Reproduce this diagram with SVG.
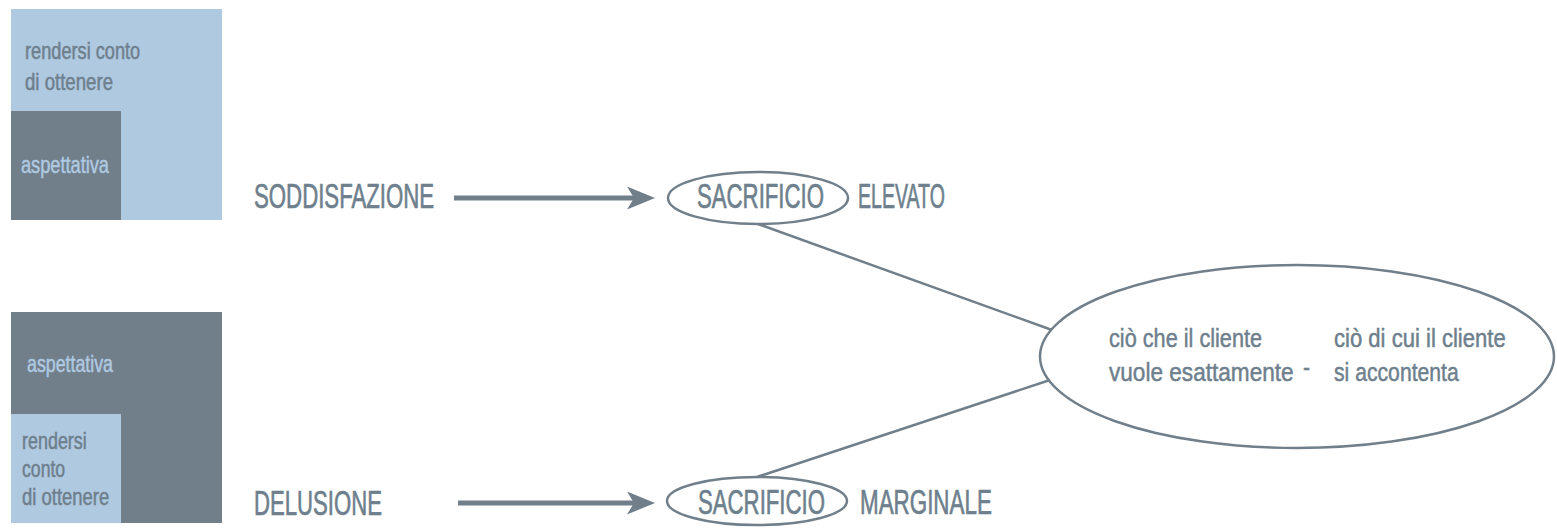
<svg xmlns="http://www.w3.org/2000/svg" width="1557" height="528" viewBox="0 0 1557 528">
  <style>
    .light { fill: #afc9e0; }
    .dark { fill: #717f8b; }
    .t { font-family: "Liberation Sans", Arial, sans-serif; fill: #6e7f8d; stroke: #6e7f8d; stroke-width: 0.5; }
    .small { font-size: 23px; }
    .inv { fill: #afc9e0; stroke: #afc9e0; }
    .big { font-size: 35px; stroke-width: 0.7; }
    .mid { font-size: 26px; }
    .ring { fill: none; stroke: #717f8b; stroke-width: 2.5; }
    .link { stroke: #717f8b; stroke-width: 2.5; fill: none; }
    .arrow { stroke: #717f8b; stroke-width: 5; fill: none; }
  </style>
  <defs>
    <marker id="head" viewBox="0 0 28 23" refX="13" refY="11.5" markerWidth="28" markerHeight="23" markerUnits="userSpaceOnUse" orient="auto">
      <path d="M0,0 L28,11.5 L0,23 L7,11.5 Z" fill="#717f8b"/>
    </marker>
  </defs>

  <!-- upper block: perception exceeds expectation -->
  <g id="block-top">
    <rect class="light" x="11" y="9" width="211" height="211"/>
    <rect class="dark" x="11" y="111" width="110" height="109"/>
    <text class="t small" transform="translate(25 59) scale(0.8 1)" textLength="144" lengthAdjust="spacingAndGlyphs">rendersi conto</text>
    <text class="t small" transform="translate(25 90) scale(0.8 1)" textLength="110" lengthAdjust="spacingAndGlyphs">di ottenere</text>
    <text class="t small inv" transform="translate(21 173) scale(0.8 1)" textLength="110" lengthAdjust="spacingAndGlyphs">aspettativa</text>
  </g>

  <!-- lower block: expectation exceeds perception -->
  <g id="block-bottom">
    <rect class="dark" x="11" y="312" width="211" height="211"/>
    <rect class="light" x="11" y="414" width="110" height="109"/>
    <text class="t small inv" transform="translate(27 372) scale(0.8 1)" textLength="107.5" lengthAdjust="spacingAndGlyphs">aspettativa</text>
    <text class="t small" transform="translate(22 449) scale(0.8 1)" textLength="81" lengthAdjust="spacingAndGlyphs">rendersi</text>
    <text class="t small" transform="translate(22 477) scale(0.8 1)" textLength="54" lengthAdjust="spacingAndGlyphs">conto</text>
    <text class="t small" transform="translate(22 505) scale(0.8 1)" textLength="109" lengthAdjust="spacingAndGlyphs">di ottenere</text>
  </g>

  <g id="label-soddisfazione">
    <text class="t big" transform="translate(254 208) scale(0.63 1)" textLength="286" lengthAdjust="spacingAndGlyphs">SODDISFAZIONE</text>
  </g>
  <g id="label-delusione">
    <text class="t big" transform="translate(254 515) scale(0.63 1)" textLength="203" lengthAdjust="spacingAndGlyphs">DELUSIONE</text>
  </g>

  <g id="sacrificio-elevato">
    <ellipse class="ring" cx="758" cy="198" rx="90" ry="26"/>
    <text class="t big" transform="translate(697 208) scale(0.63 1)" textLength="201.5" lengthAdjust="spacingAndGlyphs">SACRIFICIO</text>
    <text class="t big" transform="translate(858 208) scale(0.55 1)" textLength="158" lengthAdjust="spacingAndGlyphs">ELEVATO</text>
  </g>

  <g id="sacrificio-marginale">
    <ellipse class="ring" cx="757" cy="501" rx="90" ry="24"/>
    <text class="t big" transform="translate(698 514) scale(0.63 1)" textLength="201.5" lengthAdjust="spacingAndGlyphs">SACRIFICIO</text>
    <text class="t big" transform="translate(860 514) scale(0.64 1)" textLength="206" lengthAdjust="spacingAndGlyphs">MARGINALE</text>
  </g>

  <g id="gap">
    <ellipse class="ring" cx="1297" cy="356.5" rx="257" ry="91.5"/>
    <text class="t mid" transform="translate(1109 347) scale(0.81 1)" textLength="189" lengthAdjust="spacingAndGlyphs">ciò che il cliente</text>
    <text class="t mid" transform="translate(1109 381) scale(0.81 1)" textLength="228" lengthAdjust="spacingAndGlyphs">vuole esattamente</text>
    <text class="t mid" transform="translate(1303 376) scale(0.81 1)">-</text>
    <text class="t mid" transform="translate(1334 347) scale(0.81 1)" textLength="212" lengthAdjust="spacingAndGlyphs">ciò di cui il cliente</text>
    <text class="t mid" transform="translate(1334 381) scale(0.81 1)" textLength="154" lengthAdjust="spacingAndGlyphs">si accontenta</text>
  </g>

  <g id="connectors">
    <line class="arrow" x1="454" y1="198" x2="640" y2="198" marker-end="url(#head)"/>
    <line class="arrow" x1="458" y1="503" x2="640" y2="503" marker-end="url(#head)"/>
    <line class="link" x1="758" y1="224" x2="1052" y2="330"/>
    <line class="link" x1="757" y1="477" x2="1050" y2="380"/>
  </g>
</svg>
